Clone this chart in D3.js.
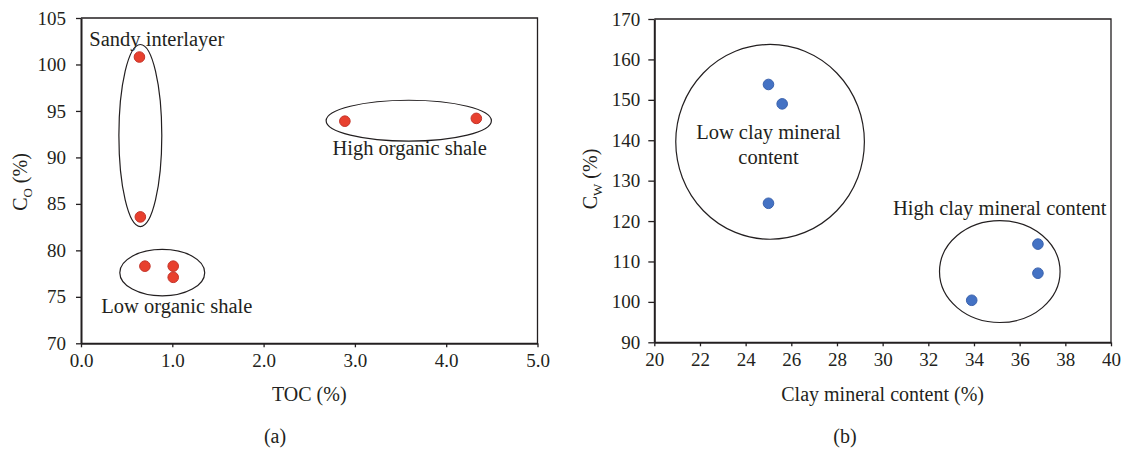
<!DOCTYPE html>
<html lang="en">
<head>
    <meta charset="UTF-8">
    <title>Co vs TOC and Cw vs clay mineral content</title>
    <script src="https://d3js.org/d3.v7.min.js" charset="utf-8"></script>
    <style>
        body { margin: 0; background: #fff; }
        svg { background: #fff; display: block; }
        text { font-family: "Liberation Serif", "Times New Roman", serif; fill: #231f20; }
    </style>
</head>
<body>
    <div id="chart"></div>
    <script>
        // panel (a): TOC vs C_O
        var tocValues = [0.64, 0.65, 0.70, 1.01, 1.01, 2.89, 4.33];
        var coValues  = [100.8, 83.6, 78.3, 78.3, 77.1, 93.9, 94.2];
        var tocTicks  = [0, 1, 2, 3, 4, 5];
        var coTicks   = [70, 75, 80, 85, 90, 95, 100, 105];

        // panel (b): clay mineral content vs C_W
        var clayValues = [25.0, 25.6, 25.0, 36.8, 36.8, 33.9];
        var cwValues   = [153.8, 149.0, 124.4, 114.3, 107.1, 100.4];
        var clayTicks  = [20, 22, 24, 26, 28, 30, 32, 34, 36, 38, 40];
        var cwTicks    = [90, 100, 110, 120, 130, 140, 150, 160, 170];

        // group outlines, in data units (centre x, centre y, radius x, radius y)
        var groupsA = [
            {cx: 0.65, cy: 92.35, rx: 0.235, ry: 9.8},
            {cx: 0.89, cy: 77.6, rx: 0.465, ry: 2.5},
            {cx: 3.59, cy: 93.95, rx: 0.905, ry: 2.2}
        ];
        var groupsB = [
            {cx: 25.07, cy: 139.6, rx: 4.13, ry: 24.1},
            {cx: 35.13, cy: 107.5, rx: 2.64, ry: 12.6}
        ];
        var labelsA = [
            {text: 'Sandy interlayer', x: 0.83, y: 102.0},
            {text: 'Low organic shale', x: 1.05, y: 73.3},
            {text: 'High organic shale', x: 3.6, y: 90.3}
        ];
        var labelsB = [
            {text: 'Low clay mineral', x: 25.0, y: 140.3},
            {text: 'content', x: 25.0, y: 134.2},
            {text: 'High clay mineral content', x: 35.13, y: 121.6}
        ];

        var width = 1125, height = 449;
        var svg = d3.select('#chart').append('svg')
                    .attr('width', width)
                    .attr('height', height);

        var serif = '"Liberation Serif", "Times New Roman", serif';

        function drawPanel(opt) {
            var x = d3.scaleLinear().domain(opt.xDomain).range(opt.xRange);
            var y = d3.scaleLinear().domain(opt.yDomain).range(opt.yRange);
            var g = svg.append('g');

            // frame (top + right)
            g.append('path')
                .attr('d', 'M' + x.range()[0] + ',' + y.range()[1] + 'H' + x.range()[1] + 'V' + y.range()[0])
                .attr('fill', 'none')
                .attr('stroke', '#231f20')
                .attr('stroke-width', 1.3);

            var xAxis = g.append('g')
                .attr('transform', 'translate(0,' + y.range()[0] + ')')
                .call(d3.axisBottom(x).tickValues(opt.xTicks).tickFormat(opt.xFormat)
                        .tickSize(4).tickSizeOuter(0).tickPadding(6));
            var yAxis = g.append('g')
                .attr('transform', 'translate(' + x.range()[0] + ',0)')
                .call(d3.axisLeft(y).tickValues(opt.yTicks)
                        .tickSize(opt.yTickSize).tickSizeOuter(0).tickPadding(opt.yPad));
            [xAxis, yAxis].forEach(function(a) {
                a.attr('font-family', serif).attr('font-size', 19);
                a.select('.domain').attr('stroke', '#231f20').attr('stroke-width', 2);
                a.selectAll('.tick line').attr('stroke', '#231f20').attr('stroke-width', 1.3);
                a.selectAll('.tick text')
                    .attr('font-family', serif)
                    .style('font-family', serif)
                    .style('font-size', '19px')
                    .attr('fill', '#231f20');
            });

            // group outlines
            g.selectAll('ellipse.grp')
                .data(opt.groups)
                .enter().append('ellipse')
                .attr('class', 'grp')
                .attr('cx', d => x(d.cx))
                .attr('cy', d => y(d.cy))
                .attr('rx', d => Math.abs(x(d.cx + d.rx) - x(d.cx)))
                .attr('ry', d => Math.abs(y(d.cy + d.ry) - y(d.cy)))
                .attr('fill', 'none')
                .attr('stroke', '#231f20')
                .attr('stroke-width', 1.2);

            // points
            g.selectAll('circle.pt')
                .data(opt.xs.map((v, i) => [v, opt.ys[i]]))
                .enter().append('circle')
                .attr('class', 'pt')
                .attr('cx', d => x(d[0]))
                .attr('cy', d => y(d[1]))
                .attr('r', 5.3)
                .attr('fill', opt.fill)
                .attr('stroke', opt.stroke)
                .attr('stroke-width', 1);

            // annotations
            g.selectAll('text.lbl')
                .data(opt.labels)
                .enter().append('text')
                .attr('class', 'lbl')
                .attr('x', d => x(d.x))
                .attr('y', d => y(d.y))
                .attr('text-anchor', 'middle')
                .style('font-size', '20.5px')
                .text(d => d.text);

            // x title
            g.append('text')
                .attr('x', (x.range()[0] + x.range()[1]) / 2)
                .attr('y', 401)
                .attr('text-anchor', 'middle')
                .style('font-size', '20px')
                .text(opt.xTitle);

            // y title with subscript
            var yt = g.append('text')
                .attr('transform', 'translate(' + opt.yTitleX + ',' + opt.yTitleY + ') rotate(-90)')
                .attr('text-anchor', 'middle')
                .style('font-size', '20px');
            yt.append('tspan').text('C');
            yt.append('tspan').attr('dy', 5).style('font-size', '13px').text(opt.ySub);
            yt.append('tspan').attr('dy', -5).text(' (%)');

            // panel caption
            g.append('text')
                .attr('x', opt.captionX)
                .attr('y', 443)
                .attr('text-anchor', 'middle')
                .style('font-size', '20px')
                .text(opt.caption);
        }

        drawPanel({
            xDomain: [0, 5], xRange: [81, 537.5],
            yDomain: [70, 105], yRange: [343.3, 18],
            xTicks: tocTicks, yTicks: coTicks,
            xFormat: d3.format('.1f'),
            yTickSize: 5, yPad: 10,
            xs: tocValues, ys: coValues,
            fill: '#e8402e', stroke: '#c4342a',
            groups: groupsA, labels: labelsA,
            xTitle: 'TOC (%)', ySub: 'O',
            yTitleX: 27, yTitleY: 182,
            caption: '(a)', captionX: 275
        });

        drawPanel({
            xDomain: [20, 40], xRange: [654.3, 1111],
            yDomain: [90, 170], yRange: [342.3, 19],
            xTicks: clayTicks, yTicks: cwTicks,
            xFormat: d3.format('d'),
            yTickSize: 6, yPad: 8,
            xs: clayValues, ys: cwValues,
            fill: '#4472c4', stroke: '#3a62ad',
            groups: groupsB, labels: labelsB,
            xTitle: 'Clay mineral content (%)', ySub: 'W',
            yTitleX: 597, yTitleY: 179,
            caption: '(b)', captionX: 845
        });
    </script>
</body>
</html>
